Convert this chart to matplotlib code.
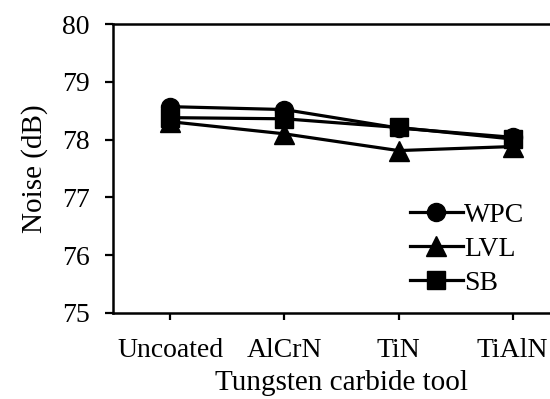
import matplotlib
matplotlib.use("Agg")
import matplotlib.pyplot as plt

categories = ["Uncoated", "AlCrN", "TiN", "TiAlN"]
wpc = [78.57, 78.52, 78.20, 78.04]
lvl = [78.31, 78.10, 77.81, 77.88]
sb = [78.38, 78.36, 78.21, 78.01]
yticks = [75, 76, 77, 78, 79, 80]

plt.rcParams['font.family'] = ['Liberation Serif', 'DejaVu Serif']

fig = plt.figure(figsize=(5.5, 3.99), dpi=100)
ax = fig.add_axes([113/550, 86/399, 456.8/550, 289/399])

x = list(range(len(categories)))
lw = 2.3
ax.plot(x, wpc, color='black', lw=lw, marker='o', ms=13, label='WPC')
ax.plot(x, lvl, color='black', lw=lw, marker='^', ms=14, label='LVL')
ax.plot(x, sb, color='black', lw=lw, marker='s', ms=13, label='SB')

ax.set_xlim(-0.5, 3.5)
ax.set_ylim(75, 80)
ax.set_yticks(yticks)
ax.set_xticks(x)
ax.set_xticklabels(categories)
ax.spines['right'].set_visible(False)
for s in ['left', 'bottom', 'top']:
    ax.spines[s].set_linewidth(1.8)
ax.tick_params(axis='y', direction='out', length=6, width=1.6, labelsize=20, pad=11)
ax.tick_params(axis='x', direction='out', length=5, width=1.6, labelsize=20, pad=13)

ax.set_ylabel('Noise (dB)', fontsize=21, labelpad=10)
ax.set_xlabel('Tungsten carbide tool', fontsize=21, labelpad=5)

leg = ax.legend(loc='upper left', bbox_to_anchor=(0.62, 0.43), frameon=False,
                fontsize=20, handlelength=1.9, handletextpad=0.05,
                labelspacing=0.3, borderpad=0)
fig.savefig('out.png', dpi=100)
